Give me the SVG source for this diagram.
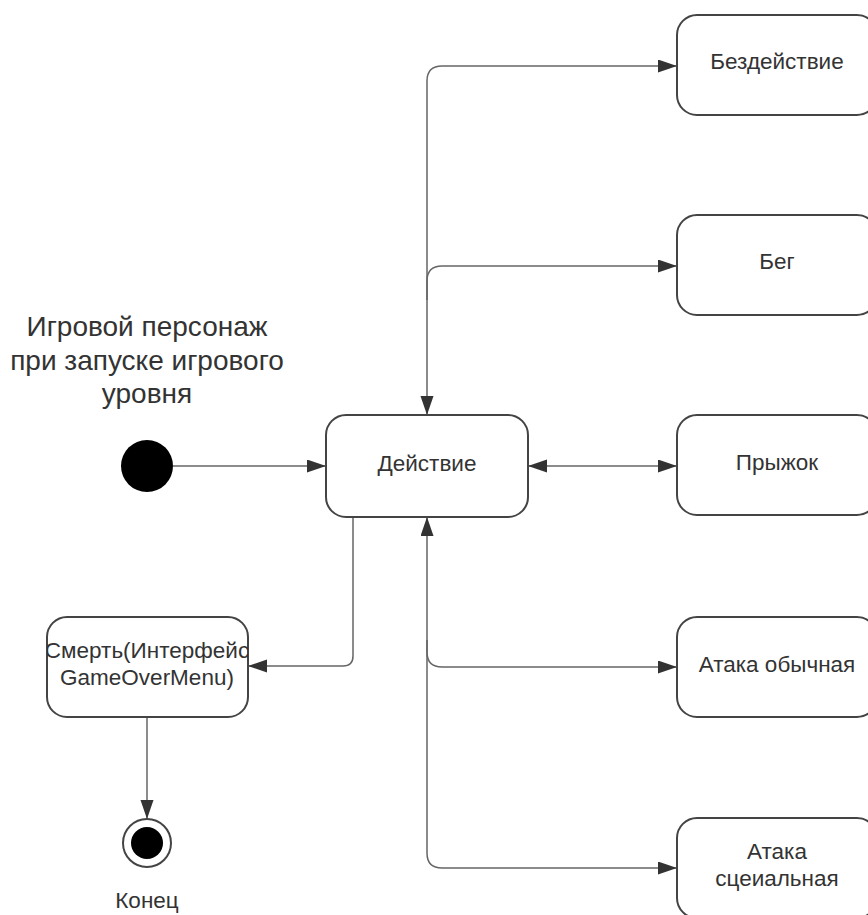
<svg xmlns="http://www.w3.org/2000/svg" width="868" height="915" viewBox="0 0 868 915">
<style>
.box{fill:#fff;stroke:#444;stroke-width:2}
.lbl{font-family:"Liberation Sans",Arial,sans-serif;font-size:22.5px;fill:#333;text-anchor:middle}
.ttl{font-family:"Liberation Sans",Arial,sans-serif;font-size:28px;fill:#333;text-anchor:middle}
.con{fill:none;stroke:#666;stroke-width:1.5}
</style>
<defs>
<marker id="ah" markerUnits="userSpaceOnUse" markerWidth="20" markerHeight="14" refX="19" refY="6.5" orient="auto-start-reverse">
<path d="M0,0 L19,6.5 L0,13 z" fill="#333"/>
</marker>
<clipPath id="clipDeath"><rect x="47" y="617" width="201" height="100" rx="18"/></clipPath>
</defs>
<rect width="868" height="915" fill="#fff"/>
<g id="connectors">
<path class="con" d="M427,415 V81 Q427,66 442,66 H677" marker-start="url(#ah)" marker-end="url(#ah)"/>
<path class="con" d="M427,300 V281 Q427,266 442,266 H677" marker-end="url(#ah)"/>
<path class="con" d="M427,517 V853 Q427,868 442,868 H677" marker-start="url(#ah)" marker-end="url(#ah)"/>
<path class="con" d="M427,640 V652 Q427,667 442,667 H677" marker-end="url(#ah)"/>
<path class="con" d="M528,466 H677" marker-start="url(#ah)" marker-end="url(#ah)"/>
<path class="con" d="M173,466 H326" marker-end="url(#ah)"/>
<path class="con" d="M353,517 V656 Q353,666 343,666 H248" marker-end="url(#ah)"/>
<path class="con" d="M147,717 V819" marker-end="url(#ah)"/>
</g>
<g id="start">
<circle cx="147" cy="466" r="26" fill="#000"/>
<text class="ttl" x="147" y="336">Игровой персонаж</text>
<text class="ttl" x="147" y="370">при запуске игрового</text>
<text class="ttl" x="147" y="403">уровня</text>
</g>
<g id="action">
<rect class="box" x="326" y="415" width="202" height="102" rx="20"/>
<text class="lbl" x="427" y="471">Действие</text>
</g>
<g id="idle">
<rect class="box" x="677" y="15" width="200" height="100" rx="20"/>
<text class="lbl" x="777" y="69">Бездействие</text>
</g>
<g id="run">
<rect class="box" x="677" y="215" width="200" height="100" rx="20"/>
<text class="lbl" x="777" y="269">Бег</text>
</g>
<g id="jump">
<rect class="box" x="677" y="415" width="200" height="100" rx="20"/>
<text class="lbl" x="777" y="470">Прыжок</text>
</g>
<g id="attack">
<rect class="box" x="677" y="617" width="200" height="100" rx="20"/>
<text class="lbl" x="777" y="672">Атака обычная</text>
</g>
<g id="special">
<rect class="box" x="677" y="818" width="200" height="100" rx="20"/>
<text class="lbl" x="777" y="859">Атака</text>
<text class="lbl" x="777" y="886">сцеиальная</text>
</g>
<g id="death">
<rect class="box" x="47" y="617" width="201" height="100" rx="20"/>
<g clip-path="url(#clipDeath)">
<text class="lbl" x="147" y="658">Смерть(Интерфейс</text>
<text class="lbl" x="147" y="685">GameOverMenu)</text>
</g>
</g>
<g id="end">
<circle cx="147" cy="843" r="24" fill="#fff" stroke="#444" stroke-width="2"/>
<circle cx="147" cy="843" r="16" fill="#000"/>
<text class="lbl" x="147" y="908">Конец</text>
</g>
</svg>
